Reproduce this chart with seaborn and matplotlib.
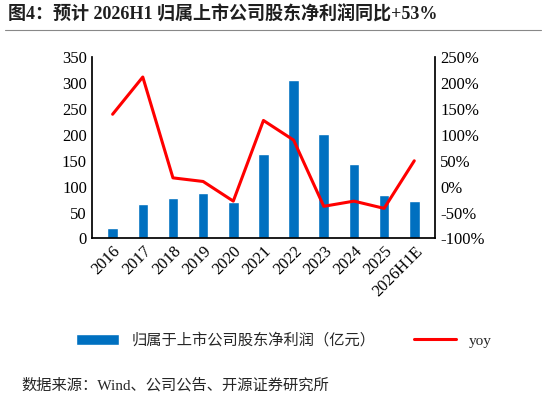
import matplotlib
matplotlib.use("Agg")
import matplotlib.pyplot as plt
import seaborn as sns
import pandas as pd
from matplotlib.ticker import FuncFormatter

years = ["2016","2017","2018","2019","2020","2021","2022","2023","2024","2025","2026H1E"]
profit = [20, 67, 79, 87, 71, 163, 307, 201, 144, 83, 72]
yoy = [140, 212, 17, 10, -28, 128, 90, -38, -28, -42, 50]

sns.set_theme(style="white")
plt.rcParams['font.family'] = ['Liberation Serif', 'Noto Sans CJK SC']
df = pd.DataFrame({"year": years, "profit": profit, "yoy": yoy})

fig = plt.figure(figsize=(5.46, 4.04), dpi=100)
ax = fig.add_axes([0.168, 0.41, 0.629, 0.448])
sns.barplot(data=df, x="year", y="profit", color="#0070C0", width=0.35, ax=ax, label="归属于上市公司股东净利润（亿元）", saturation=1)
if ax.get_legend() is not None:
    ax.get_legend().remove()
ax.set_ylim(0, 350)
ax.set_yticks(range(0, 351, 50))
ax.set_xlabel(""); ax.set_ylabel("")
ax2 = ax.twinx()
ax2.plot(range(len(years)), yoy, color="#FF0000", lw=2.2, label="yoy")
ax2.set_ylim(-100, 250)
ax2.set_yticks(range(-100, 251, 50))
ax2.yaxis.set_major_formatter(FuncFormatter(lambda v, p: f"{int(v)}%"))
for a in (ax, ax2):
    for s in a.spines.values():
        s.set_visible(False)
    a.tick_params(labelsize=12, length=0, colors="black")
ax.spines['bottom'].set_visible(True); ax.spines['bottom'].set_color("black")
ax.spines['left'].set_visible(True); ax.spines['left'].set_color("black")
ax2.spines['right'].set_visible(True); ax2.spines['right'].set_color("black")
ax.tick_params(axis='x', rotation=45, labelsize=12)
for lbl in ax.get_xticklabels():
    lbl.set_ha("right"); lbl.set_rotation_mode("anchor")
h1, l1 = ax.get_legend_handles_labels()
h2, l2 = ax2.get_legend_handles_labels()
fig.legend(h1 + h2, l1 + l2, loc="center", bbox_to_anchor=(0.52, 0.158), ncol=2, frameon=False,
           prop={'family': ['Liberation Serif', 'Noto Sans CJK SC'], 'size': 11}, columnspacing=2.5, handlelength=2.8)
fig.text(0.015, 0.965, "图4：预计 2026H1 归属上市公司股东净利润同比+53%", fontsize=13, fontweight="bold",
         family=['Liberation Serif', 'Noto Sans CJK SC'], va="center", color="#1F1F1F")
fig.text(0.04, 0.045, "数据来源：Wind、公司公告、开源证券研究所", fontsize=11,
         family=['Liberation Serif', 'Noto Sans CJK SC'], va="center")
fig.add_artist(plt.Line2D([0.01, 0.99], [0.925, 0.925], color="#888888", lw=0.8))
fig.savefig("out.png", dpi=100)
